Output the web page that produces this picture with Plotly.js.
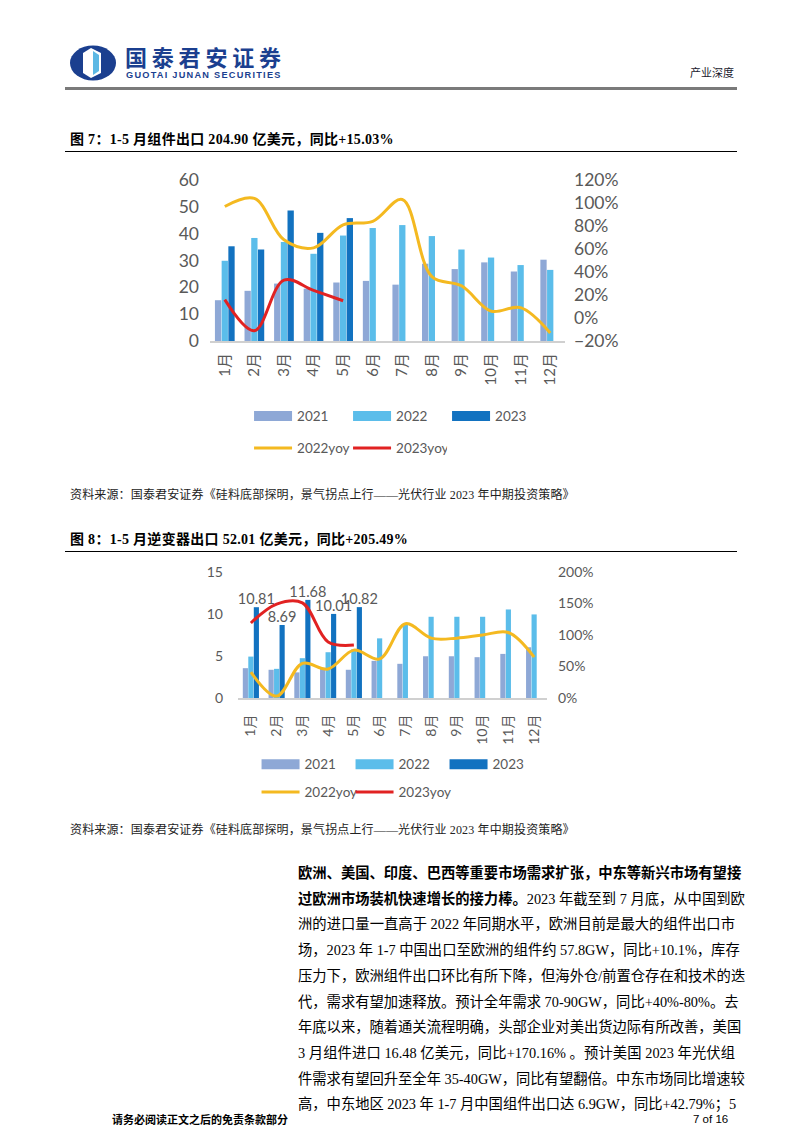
<!DOCTYPE html>
<html>
<head>
<meta charset="utf-8">
<script src="https://cdn.plot.ly/plotly-3.0.1.min.js"></script>
<style>
body { margin: 0; background: #fff; }
#page { position: relative; width: 802px; height: 1133px; overflow: hidden;
        font-family: "Liberation Serif", "Noto Sans CJK SC", serif; color: #000; }
.abs { position: absolute; white-space: nowrap; line-height: 1; }
.ftitle { font-weight: bold; font-size: 14px; letter-spacing: 0.3px; }
.rule { position: absolute; left: 65px; width: 672px; height: 1px; background: #000; }
.src { font-size: 12px; letter-spacing: 0.15px; color: #222; }
.line { position: absolute; left: 298px; width: 437px; font-size: 14.3px;
        text-align: justify; text-align-last: justify; white-space: nowrap; }
.chart { position: absolute; left: 0; width: 802px; }
</style>
</head>
<body>
<div id="page">
  <!-- header -->
  <svg class="abs" style="left:69px;top:45px" width="48" height="36" viewBox="0 0 48 36">
    <ellipse cx="24" cy="18" rx="23" ry="17.5" fill="#1b3f8f"/>
    <path d="M22,3 L32,8 L32,28 L22,33 L14,28 L14,8 Z" fill="#fff"/>
    <path d="M24,6 L30,10 L30,26 L24,30 Z" fill="#5db8e4"/>
  </svg>
  <div class="abs" style="left:125px;top:45px;font-family:'Noto Sans CJK SC';font-weight:bold;font-size:22px;letter-spacing:4.8px;color:#1b3f8f">国泰君安证券</div>
  <div class="abs" style="left:126px;top:71px;font-family:'Liberation Sans';font-weight:bold;font-size:9.2px;letter-spacing:1.25px;color:#1b3f8f">GUOTAI JUNAN SECURITIES</div>
  <div class="abs" style="left:690px;top:67px;font-family:'Noto Sans CJK SC';font-size:11px;color:#1a1a2e">产业深度</div>
  <div class="abs" style="left:65px;top:87px;width:672px;height:2.5px;background:#7a7a7a"></div>

  <!-- figure 7 -->
  <div class="abs ftitle" style="left:70px;top:133px">图 7：1-5 月组件出口 204.90 亿美元，同比+15.03%</div>
  <div class="rule" style="top:151px"></div>
  <div id="c7" class="chart" style="top:165px;height:305px"></div>
  <div class="abs src" style="left:70px;top:489px">资料来源：国泰君安证券《硅料底部探明，景气拐点上行——光伏行业 2023 年中期投资策略》</div>

  <!-- figure 8 -->
  <div class="abs ftitle" style="left:70px;top:533px">图 8：1-5 月逆变器出口 52.01 亿美元，同比+205.49%</div>
  <div class="rule" style="top:551px"></div>
  <div id="c8" class="chart" style="top:555px;height:255px"></div>
  <div class="abs src" style="left:70px;top:824px">资料来源：国泰君安证券《硅料底部探明，景气拐点上行——光伏行业 2023 年中期投资策略》</div>

  <!-- body text -->
  <div class="line" style="top:861px;font-weight:bold">欧洲、美国、印度、巴西等重要市场需求扩张，中东等新兴市场有望接</div>
  <div class="line" style="top:886.7px"><b>过欧洲市场装机快速增长的接力棒。</b>2023 年截至到 7 月底，从中国到欧</div>
  <div class="line" style="top:912.4px">洲的进口量一直高于 2022 年同期水平，欧洲目前是最大的组件出口市</div>
  <div class="line" style="top:938.1px">场，2023 年 1-7 中国出口至欧洲的组件约 57.8GW，同比+10.1%，库存</div>
  <div class="line" style="top:963.8px">压力下，欧洲组件出口环比有所下降，但海外仓/前置仓存在和技术的迭</div>
  <div class="line" style="top:989.5px">代，需求有望加速释放。预计全年需求 70-90GW，同比+40%-80%。去</div>
  <div class="line" style="top:1015.2px">年底以来，随着通关流程明确，头部企业对美出货边际有所改善，美国</div>
  <div class="line" style="top:1040.9px">3 月组件进口 16.48 亿美元，同比+170.16% 。预计美国 2023 年光伏组</div>
  <div class="line" style="top:1066.6px">件需求有望回升至全年 35-40GW，同比有望翻倍。中东市场同比增速较</div>
  <div class="line" style="top:1092.3px">高，中东地区 2023 年 1-7 月中国组件出口达 6.9GW，同比+42.79%；5</div>

  <!-- footer -->
  <div class="abs" style="left:112px;top:1114px;font-family:'Noto Sans CJK SC';font-weight:bold;font-size:11px">请务必阅读正文之后的免责条款部分</div>
  <div class="abs" style="left:693px;top:1114px;font-family:'Liberation Sans';font-size:11.5px">7 of 16</div>
</div>

<script>
// month categories shared by both charts
var months = ['1月','2月','3月','4月','5月','6月','7月','8月','9月','10月','11月','12月'];

// fig 7: module exports (亿美元) and yoy (%)
var mod2021 = [15.2, 18.7, 21.4, 19.5, 21.8, 22.4, 21.0, 28.8, 26.8, 29.3, 25.9, 30.3];
var mod2022 = [29.9, 38.4, 36.9, 32.5, 39.3, 42.1, 43.2, 39.1, 34.1, 31.1, 28.3, 26.5];
var mod2023 = [35.3, 34.1, 48.6, 40.3, 45.8];
var modYoy2022 = [97, 104, 68, 61, 81, 84, 103, 36, 28, 6, 9, -13];
var modYoy2023 = [16, -11, 33, 24, 15];

// fig 8: inverter exports (亿美元) and yoy (%)
var inv2021 = [3.55, 3.36, 3.05, 3.6, 3.36, 4.42, 4.07, 4.97, 4.97, 4.86, 5.25, 6.04];
var inv2022 = [4.93, 3.47, 4.74, 5.45, 5.8, 7.1, 8.8, 9.67, 9.67, 9.67, 10.54, 9.95];
var inv2023 = [10.81, 8.69, 11.68, 10.01, 10.82];
var invYoy2022 = [41, 3, 55, 46, 76, 62, 118, 95, 95, 100, 104, 65];
var invYoy2023 = [119, 149, 151, 89, 84];

var C21 = '#8EA8D6', C22 = '#5BBDEA', C23 = '#1272C0', CY = '#F4B920', CR = '#E12222';
var GREY = '#595959';
var FONT = 'Lato, "Noto Sans CJK SC", sans-serif';

function bars(y, name, color, extra) {
    var t = { type: 'bar', x: months.slice(0, y.length), y: y, name: name,
              marker: { color: color }, showlegend: false, hoverinfo: 'y' };
    for (var k in extra) t[k] = extra[k];
    return t;
}
// legend-only entries so the swatches are wide like the original
function key(name, color, lg, w) {
    return { type: 'scatter', mode: 'lines', x: [null], y: [null], name: name,
             line: { color: color, width: w }, legend: lg, hoverinfo: 'skip' };
}
function yoy(y, name, color) {
    return { type: 'scatter', mode: 'lines', x: months.slice(0, y.length), y: y, name: name,
             yaxis: 'y2', line: { color: color, width: 3, shape: 'spline', smoothing: 1 },
             legend: 'legend2', hoverinfo: 'y' };
}

function makeLayout(o) {
    return {
        width: 802, height: o.h,
        margin: { l: o.l, r: o.r, t: o.t, b: o.b, autoexpand: false },
        paper_bgcolor: 'rgba(0,0,0,0)', plot_bgcolor: 'rgba(0,0,0,0)',
        font: { family: FONT, color: GREY },
        barmode: 'group', bargap: o.gap, bargroupgap: 0.06,
        xaxis: { type: 'category', categoryarray: months, tickangle: -90, ticks: '',
                 showline: true, linecolor: '#D0D0D0', linewidth: 2, showgrid: false,
                 tickfont: { size: o.xf, color: GREY }, ticklabelstandoff: o.sx },
        yaxis: { range: o.yr, dtick: o.yd, showgrid: false, zeroline: false, showline: false,
                 ticks: '', tickfont: { size: o.tf, color: GREY }, ticklabelstandoff: o.sl },
        yaxis2: { overlaying: 'y', side: 'right', range: o.y2r, dtick: o.y2d, ticksuffix: '%',
                  showgrid: false, zeroline: false, showline: false, ticks: '',
                  tickfont: { size: o.tf, color: GREY }, ticklabelstandoff: o.sr },
        legend: { orientation: 'h', x: o.lx, xanchor: 'left', y: o.ly1, yanchor: 'middle',
                  itemwidth: 38, entrywidth: o.ew, font: { size: o.lf, color: GREY },
                  bgcolor: 'rgba(0,0,0,0)' },
        legend2: { orientation: 'h', x: o.lx, xanchor: 'left', y: o.ly2, yanchor: 'middle',
                   itemwidth: 38, entrywidth: o.ew, font: { size: o.lf, color: GREY },
                   bgcolor: 'rgba(0,0,0,0)' }
    };
}

var data7 = [
    bars(mod2021, '2021', C21), bars(mod2022, '2022', C22), bars(mod2023, '2023', C23),
    key('2021', C21, 'legend', 10), key('2022', C22, 'legend', 10), key('2023', C23, 'legend', 10),
    yoy(modYoy2022, '2022yoy', CY), yoy(modYoy2023, '2023yoy', CR)
];
var layout7 = makeLayout({ h: 305, l: 210, r: 237, t: 15, b: 128.5, gap: 0.32,
    xf: 15, tf: 17.5, sx: 4, sl: 10, sr: 8, yr: [0, 60], yd: 10, y2r: [-20, 120], y2d: 20,
    lx: 0.11, ly1: -0.467, ly2: -0.666, ew: 46, lf: 13.5 });
Plotly.newPlot('c7', data7, layout7, { displayModeBar: false });

var data8 = [
    bars(inv2021, '2021', C21), bars(inv2022, '2022', C22),
    bars(inv2023, '2023', C23, { texttemplate: '%{y}', textposition: 'outside',
        constraintext: 'none', cliponaxis: false, textfont: { size: 14.5, color: GREY } }),
    key('2021', C21, 'legend', 10), key('2022', C22, 'legend', 10), key('2023', C23, 'legend', 10),
    yoy(invYoy2022, '2022yoy', CY), yoy(invYoy2023, '2023yoy', CR),
    // blank slot so the last yoy label is not clipped by the fixed entry width
    key(' ', 'rgba(0,0,0,0)', 'legend2', 0)
];
var layout8 = makeLayout({ h: 255, l: 238, r: 255, t: 16.7, b: 111.7, gap: 0.36,
    xf: 14, tf: 14, sx: 9, sl: 14, sr: 10, yr: [0, 15], yd: 5, y2r: [0, 200], y2d: 50,
    lx: 0.06, ly1: -0.527, ly2: -0.748, ew: 41, lf: 13.5 });
Plotly.newPlot('c8', data8, layout8, { displayModeBar: false });
</script>
</body>
</html>
